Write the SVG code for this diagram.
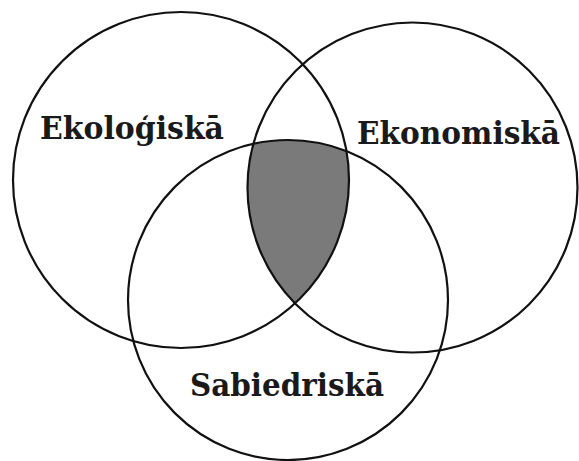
<svg xmlns="http://www.w3.org/2000/svg" width="579" height="461" viewBox="0 0 579 461">
<style>
.ring{fill:none;stroke:#111;stroke-width:2.2}
.lbl{font-family:"DejaVu Serif","Liberation Serif",serif;font-weight:bold;font-size:31px;fill:#1a1a1a}
</style>
<defs>
<clipPath id="clipA"><circle cx="181" cy="180" r="168"/></clipPath>
<clipPath id="clipB"><circle cx="412.5" cy="187.5" r="165"/></clipPath>
</defs>
<rect width="579" height="461" fill="#fff"/>
<g id="overlap" clip-path="url(#clipA)">
<g clip-path="url(#clipB)">
<circle cx="288" cy="300" r="160" fill="#7a7a7a"/>
</g>
</g>
<g id="connectors"></g>
<g id="ekologiska">
<circle class="ring" cx="181" cy="180" r="168"/>
<text class="lbl" x="40" y="139" textLength="184" lengthAdjust="spacingAndGlyphs">Ekoloģiskā</text>
</g>
<g id="ekonomiska">
<circle class="ring" cx="412.5" cy="187.5" r="165"/>
<text class="lbl" x="357" y="144" textLength="203" lengthAdjust="spacingAndGlyphs">Ekonomiskā</text>
</g>
<g id="sabiedriska">
<circle class="ring" cx="288" cy="300" r="160"/>
<text class="lbl" x="190" y="396" textLength="194" lengthAdjust="spacingAndGlyphs">Sabiedriskā</text>
</g>
</svg>
